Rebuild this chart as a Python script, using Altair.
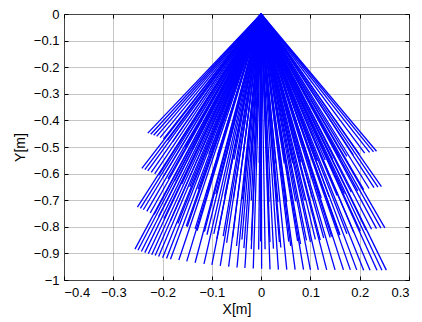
import altair as alt
import pandas as pd

# Endpoints of the lines (all start at the origin 0,0), grouped by tier
tier1_x = [-0.230, -0.224, -0.218, -0.212, -0.205, -0.198, -0.190, -0.180, -0.168, -0.154,
           -0.139, -0.123, -0.106, -0.089, -0.072, -0.055, -0.038, -0.021, -0.004, 0.013,
           0.030, 0.047, 0.064, 0.081, 0.098, 0.114, 0.130, 0.145, 0.160, 0.174,
           0.187, 0.199, 0.210, 0.220, 0.228, 0.234]
tier1_y = [-0.448, -0.452, -0.456, -0.460, -0.465, -0.470, -0.475, -0.482, -0.490, -0.499,
           -0.508, -0.517, -0.526, -0.534, -0.541, -0.547, -0.552, -0.556, -0.559, -0.561,
           -0.562, -0.562, -0.561, -0.559, -0.556, -0.553, -0.549, -0.545, -0.540, -0.535,
           -0.530, -0.527, -0.523, -0.520, -0.518, -0.516]

tier2_x = [-0.242, -0.236, -0.230, -0.223, -0.216, -0.208, -0.199, -0.189, -0.176, -0.161,
           -0.145, -0.128, -0.110, -0.092, -0.074, -0.056, -0.038, -0.020, -0.002, 0.016,
           0.034, 0.052, 0.070, 0.088, 0.105, 0.122, 0.138, 0.154, 0.169, 0.183,
           0.196, 0.208, 0.219, 0.229, 0.237, 0.244]
tier2_y = [-0.580, -0.585, -0.590, -0.595, -0.601, -0.607, -0.613, -0.620, -0.629, -0.639,
           -0.649, -0.659, -0.668, -0.677, -0.685, -0.692, -0.697, -0.701, -0.704, -0.706,
           -0.707, -0.706, -0.704, -0.701, -0.697, -0.692, -0.687, -0.682, -0.676, -0.670,
           -0.665, -0.660, -0.656, -0.653, -0.651, -0.649]

tier3_x = [-0.251, -0.245, -0.239, -0.232, -0.225, -0.217, -0.208, -0.197, -0.184, -0.169,
           -0.152, -0.134, -0.115, -0.096, -0.077, -0.058, -0.039, -0.020, -0.001, 0.018,
           0.037, 0.056, 0.074, 0.092, 0.110, 0.127, 0.143, 0.159, 0.174, 0.188,
           0.201, 0.213, 0.224, 0.234, 0.243, 0.251]
tier3_y = [-0.726, -0.731, -0.736, -0.742, -0.748, -0.754, -0.761, -0.769, -0.778, -0.788,
           -0.798, -0.808, -0.818, -0.827, -0.835, -0.842, -0.848, -0.852, -0.855, -0.857,
           -0.857, -0.856, -0.854, -0.851, -0.847, -0.842, -0.837, -0.832, -0.826, -0.821,
           -0.816, -0.812, -0.809, -0.807, -0.805, -0.804]

tier4_x = [-0.256, -0.250, -0.243, -0.236, -0.229, -0.222, -0.215, -0.208, -0.200, -0.192,
           -0.184, -0.167, -0.151, -0.134, -0.116, -0.100, -0.083, -0.066, -0.049, -0.033,
           -0.016, 0.001, 0.018, 0.035, 0.052, 0.069, 0.086, 0.100, 0.116, 0.133,
           0.150, 0.167, 0.181, 0.194, 0.208, 0.221, 0.235, 0.245, 0.254]
tier4_y = [-0.884, -0.888, -0.893, -0.897, -0.901, -0.905, -0.908, -0.912, -0.916, -0.919,
           -0.922, -0.925, -0.930, -0.935, -0.939, -0.943, -0.947, -0.950, -0.953, -0.955,
           -0.957, -0.958, -0.960, -0.961, -0.961, -0.961, -0.961, -0.962, -0.962, -0.962,
           -0.962, -0.962, -0.962, -0.962, -0.963, -0.963, -0.963, -0.963, -0.963]

# Extra line ends seen inside the fan (middle region)
mid_x = [-0.150, -0.130, -0.110, -0.090, -0.070, -0.050, -0.035, -0.020, -0.005, 0.008,
         0.025, 0.040, 0.060, 0.080, 0.100, 0.120, 0.140, 0.160]
mid_y = [-0.800, -0.815, -0.830, -0.845, -0.860, -0.872, -0.880, -0.884, -0.885, -0.884,
         -0.882, -0.878, -0.872, -0.865, -0.857, -0.850, -0.840, -0.830]

x_ticks = [-0.4, -0.3, -0.2, -0.1, 0, 0.1, 0.2, 0.3]
y_ticks = [-1, -0.9, -0.8, -0.7, -0.6, -0.5, -0.4, -0.3, -0.2, -0.1, 0]

rows = []
for xs, ys in [(tier1_x, tier1_y), (tier2_x, tier2_y), (tier3_x, tier3_y),
               (tier4_x, tier4_y), (mid_x, mid_y)]:
    for xe, ye in zip(xs, ys):
        rows.append({"x0": 0.0, "y0": 0.0, "x1": xe, "y1": ye})
df = pd.DataFrame(rows)

xscale = alt.Scale(domain=[-0.4, 0.3], nice=False, zero=False)
yscale = alt.Scale(domain=[-1, 0], nice=False, zero=False)

base = alt.Chart(df)

lines = base.mark_rule(color="#0000ff", strokeWidth=1.3).encode(
    x=alt.X("x0:Q", scale=xscale,
            axis=alt.Axis(values=x_ticks, format="~g", title="X[m]", grid=True,
                          tickSize=0, labelPadding=6, titlePadding=3, domain=False)),
    x2="x1:Q",
    y=alt.Y("y0:Q", scale=yscale,
            axis=alt.Axis(values=y_ticks, format="~g", title="Y[m]", grid=True,
                          tickSize=0, labelPadding=5, titlePadding=6, domain=False)),
    y2="y1:Q",
)

ticks_lb = base.mark_rule(opacity=0).encode(
    x=alt.X("x0:Q", scale=xscale,
            axis=alt.Axis(orient="bottom", values=x_ticks, labels=False, title=None,
                          grid=False, domain=False, tickSize=4, offset=-4)),
    y=alt.Y("y0:Q", scale=yscale,
            axis=alt.Axis(orient="left", values=y_ticks, labels=False, title=None,
                          grid=False, domain=False, tickSize=4, offset=-4)),
)

ticks_tr = base.mark_rule(opacity=0).encode(
    x=alt.X("x0:Q", scale=xscale,
            axis=alt.Axis(orient="top", values=x_ticks, labels=False, title=None,
                          grid=False, domain=False, tickSize=4, offset=-4)),
    y=alt.Y("y0:Q", scale=yscale,
            axis=alt.Axis(orient="right", values=y_ticks, labels=False, title=None,
                          grid=False, domain=False, tickSize=4, offset=-4)),
)

chart = (
    alt.layer(lines, ticks_lb, ticks_tr)
    .resolve_axis(x="independent", y="independent")
    .properties(
        width=345,
        height=266,
        padding={"left": 56, "top": 6, "right": 5, "bottom": 40},
        autosize=alt.AutoSizeParams(type="none"),
        background="white",
    )
    .configure_view(stroke="#000000", strokeWidth=1)
    .configure_axis(
        labelFont="Liberation Sans",
        labelFontSize=13,
        labelColor="#000000",
        titleFont="Liberation Sans",
        titleFontSize=14,
        titleFontWeight="normal",
        titleColor="#000000",
        gridColor="#8c8c8c",
        gridDash=[1, 1],
        gridWidth=1,
        gridOpacity=1,
        tickColor="#000000",
    )
)

chart.save("out.html", embed_options={"renderer": "svg", "actions": False})
